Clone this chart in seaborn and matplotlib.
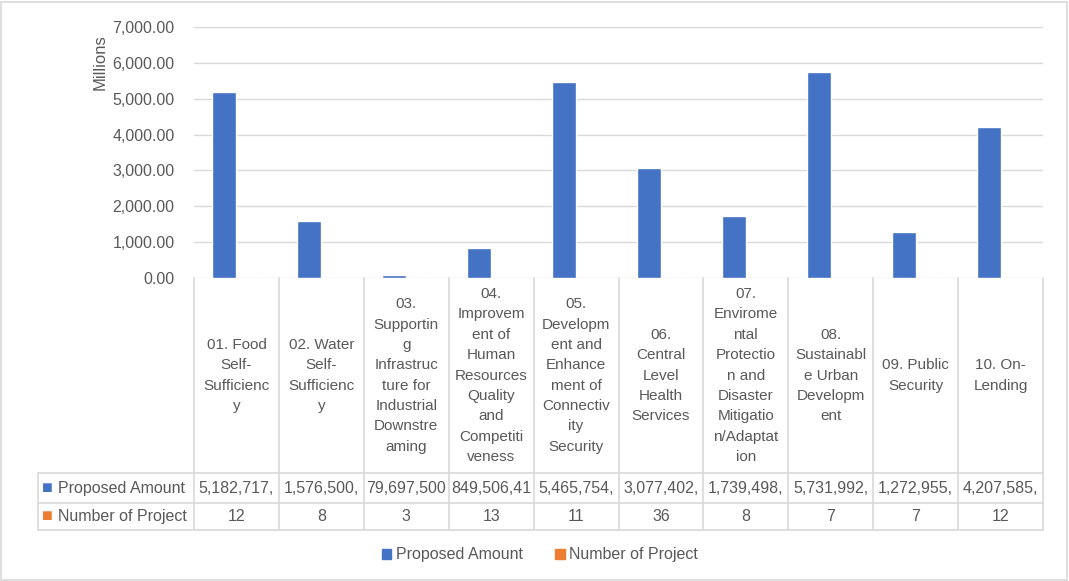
import matplotlib
matplotlib.use("Agg")
import matplotlib.pyplot as plt
import matplotlib.transforms as mtransforms
from matplotlib.patches import Rectangle
import numpy as np
import pandas as pd
import seaborn as sns

# ---- data ----
categories = [
    "01. Food\nSelf-\nSufficienc\ny",
    "02. Water\nSelf-\nSufficienc\ny",
    "03.\nSupportin\ng\nInfrastruc\nture for\nIndustrial\nDownstre\naming",
    "04.\nImprovem\nent of\nHuman\nResources\nQuality\nand\nCompetiti\nveness",
    "05.\nDevelopm\nent and\nEnhance\nment of\nConnectiv\nity\nSecurity",
    "06.\nCentral\nLevel\nHealth\nServices",
    "07.\nEnvirome\nntal\nProtectio\nn and\nDisaster\nMitigatio\nn/Adaptat\nion",
    "08.\nSustainabl\ne Urban\nDevelopm\nent",
    "09. Public\nSecurity",
    "10. On-\nLending",
]
proposed_amount = [5182717000, 1576500000, 79697500, 849506410, 5465754000,
                   3077402000, 1739498000, 5731992000, 1272955000, 4207585000]
number_of_project = [12, 8, 3, 13, 11, 36, 8, 7, 7, 12]
series_names = ["Proposed Amount", "Number of Project"]
series_colors = ["#4472C4", "#ED7D31"]
y_ticks = [0, 1000, 2000, 3000, 4000, 5000, 6000, 7000]

TEXT = "#595959"
GRID = "#D9D9D9"
FONT = ["Liberation Sans", "DejaVu Sans"]
FS = 11

sns.set_theme(style="white")
plt.rcParams["font.family"] = FONT

df = pd.DataFrame({
    "category": categories * 2,
    "series": [series_names[0]] * len(categories) + [series_names[1]] * len(categories),
    "value": proposed_amount + number_of_project,
})
df["millions"] = df["value"] / 1e6

W, H = 1069, 581
fig = plt.figure(figsize=(W / 100, H / 100), dpi=100)
fig.patch.set_facecolor("white")
ax = fig.add_axes([194 / W, 1 - 278 / H, (1043 - 194) / W, (278 - 27) / H])

sns.barplot(data=df, x="category", y="millions", hue="series", palette=series_colors,
            width=0.565, saturation=1, legend=False, ax=ax)

ax.set_xlim(-0.5, len(categories) - 0.5)
ax.set_ylim(0, 7000)
ax.set_yticks(y_ticks)
ax.set_yticklabels([f"{v:,.2f}" for v in y_ticks], color=TEXT, fontsize=11.5)
ax.tick_params(axis="y", length=0, pad=14)
ax.set_xticks([])
ax.set_xlabel("")
ax.set_ylabel("")
for v in y_ticks:
    ax.axhline(v, color=GRID, lw=1, zorder=0)
for s in ax.spines.values():
    s.set_visible(False)
fig.text(100 / W, 1 - 62 / H, "Millions", rotation=90, ha="center", va="center",
         color=TEXT, fontsize=12)

# ---- data table below the axis ----
tr = mtransforms.blended_transform_factory(ax.transData, ax.transAxes)
ax_h = 278 - 27
head_bot = -(473 - 278) / ax_h
row1_bot = -(503 - 278) / ax_h
row2_bot = -(530 - 278) / ax_h
label_left = -0.5 - (194 - 38) / ((1043 - 194) / len(categories))
n = len(categories)

line_kw = dict(color=GRID, lw=1.2, transform=tr, clip_on=False)
for i in range(n + 1):
    ax.plot([i - 0.5, i - 0.5], [0, row2_bot], **line_kw)
ax.plot([label_left, label_left], [head_bot, row2_bot], **line_kw)
for yb in (head_bot, row1_bot, row2_bot):
    ax.plot([label_left, n - 0.5], [yb, yb], **line_kw)

for i, lab in enumerate(categories):
    ax.text(i, head_bot / 2, lab, transform=tr, ha="center", va="center",
            color=TEXT, fontsize=FS, linespacing=1.58, clip_on=False)
    amount = f"{proposed_amount[i]:,}"[:10]
    ax.text(i, (head_bot + row1_bot) / 2, amount, transform=tr, ha="center",
            va="center", color=TEXT, fontsize=FS + 0.5, clip_on=False)
    ax.text(i, (row1_bot + row2_bot) / 2, str(number_of_project[i]), transform=tr,
            ha="center", va="center", color=TEXT, fontsize=FS + 0.5, clip_on=False)

for name, col, (yt, yb) in zip(series_names, series_colors,
                               [(head_bot, row1_bot), (row1_bot, row2_bot)]):
    ym = (yt + yb) / 2
    ax.text(label_left + 0.05, ym, "\u25A0", transform=tr, ha="left", va="center",
            color=col, fontsize=13, clip_on=False)
    ax.text(label_left + 0.23, ym, name, transform=tr, ha="left", va="center",
            color=TEXT, fontsize=FS + 0.5, clip_on=False)

# ---- legend ----
handles = [Rectangle((0, 0), 1, 1, color=c) for c in series_colors]
fig.legend(handles, series_names, loc="center", bbox_to_anchor=(540 / W, 1 - 555 / H),
           ncol=2, frameon=False, handlelength=0.6, handleheight=0.6, handletextpad=0.3,
           columnspacing=2.0, labelcolor=TEXT, prop={"family": FONT, "size": FS + 0.5})

# chart area border
fig.add_artist(Rectangle((1 / W, 1 / H), 1 - 3 / W, 1 - 3 / H, transform=fig.transFigure,
                         fill=False, edgecolor=GRID, lw=1.2))

fig.savefig("out.png", dpi=100, facecolor="white")
